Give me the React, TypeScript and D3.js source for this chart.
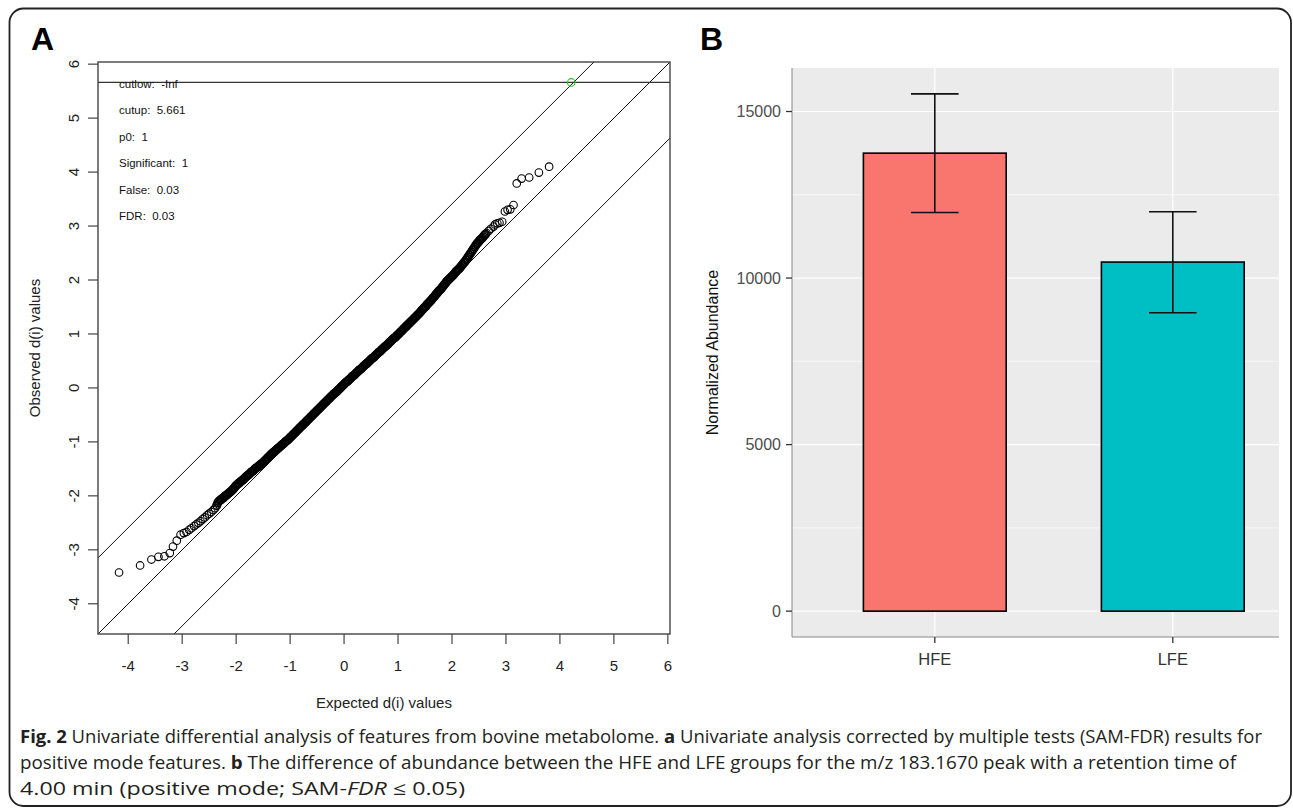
import React from 'react';
import * as d3 from 'd3';

// ---------- Panel A data (SAM plot): expected vs observed d(i) ----------
const lowerTailExp = [
  -4.17, -3.78, -3.57, -3.44, -3.33, -3.23, -3.17, -3.10, -3.03, -2.97, -2.92, -2.87,
  -2.83, -2.78, -2.74, -2.70, -2.66, -2.62, -2.58, -2.54, -2.50, -2.46, -2.42, -2.39,
];
const lowerTailObs = [
  -3.42, -3.29, -3.18, -3.13, -3.12, -3.06, -2.94, -2.83, -2.72, -2.69, -2.67, -2.63,
  -2.60, -2.56, -2.53, -2.50, -2.47, -2.43, -2.40, -2.36, -2.33, -2.30, -2.26, -2.23,
];
const denseExp = [
  -2.36, -2.34, -2.32, -2.30, -2.28, -2.26, -2.24, -2.22, -2.20, -2.18,
  -2.16, -2.14, -2.12, -2.10, -2.08, -2.06, -2.04, -2.02, -2.00, -1.98,
  -1.96, -1.94, -1.92, -1.90, -1.88, -1.86, -1.84, -1.82, -1.80, -1.78,
  -1.76, -1.74, -1.72, -1.70, -1.68, -1.66, -1.64, -1.62, -1.60, -1.58,
  -1.56, -1.54, -1.52, -1.50, -1.48, -1.46, -1.44, -1.42, -1.40, -1.38,
  -1.36, -1.34, -1.32, -1.30, -1.28, -1.26, -1.24, -1.22, -1.20, -1.18,
  -1.16, -1.14, -1.12, -1.10, -1.08, -1.06, -1.04, -1.02, -1.00, -0.98,
  -0.96, -0.94, -0.92, -0.90, -0.88, -0.86, -0.84, -0.82, -0.80, -0.78,
  -0.76, -0.74, -0.72, -0.70, -0.68, -0.66, -0.64, -0.62, -0.60, -0.58,
  -0.56, -0.54, -0.52, -0.50, -0.48, -0.46, -0.44, -0.42, -0.40, -0.38,
  -0.36, -0.34, -0.32, -0.30, -0.28, -0.26, -0.24, -0.22, -0.20, -0.18,
  -0.16, -0.14, -0.12, -0.10, -0.08, -0.06, -0.04, -0.02, 0.00, 0.02,
  0.04, 0.06, 0.08, 0.10, 0.12, 0.14, 0.16, 0.18, 0.20, 0.22,
  0.24, 0.26, 0.28, 0.30, 0.32, 0.34, 0.36, 0.38, 0.40, 0.42,
  0.44, 0.46, 0.48, 0.50, 0.52, 0.54, 0.56, 0.58, 0.60, 0.62,
  0.64, 0.66, 0.68, 0.70, 0.72, 0.74, 0.76, 0.78, 0.80, 0.82,
  0.84, 0.86, 0.88, 0.90, 0.92, 0.94, 0.96, 0.98, 1.00, 1.02,
  1.04, 1.06, 1.08, 1.10, 1.12, 1.14, 1.16, 1.18, 1.20, 1.22,
  1.24, 1.26, 1.28, 1.30, 1.32, 1.34, 1.36, 1.38, 1.40, 1.42,
  1.44, 1.46, 1.48, 1.50, 1.52, 1.54, 1.56, 1.58, 1.60, 1.62,
  1.64, 1.66, 1.68, 1.70, 1.72, 1.74, 1.76, 1.78, 1.80, 1.82,
  1.84, 1.86, 1.88, 1.90, 1.92, 1.94, 1.96, 1.98, 2.00, 2.02,
  2.04, 2.06, 2.08, 2.10, 2.12, 2.14, 2.16, 2.18, 2.20, 2.22,
  2.24, 2.26, 2.28, 2.30, 2.32, 2.34, 2.36, 2.38, 2.40, 2.42,
  2.44, 2.46, 2.48, 2.50, 2.52, 2.54, 2.56, 2.58, 2.60, 2.62,
];
const denseObs = [
  -2.18, -2.13, -2.10, -2.08, -2.07, -2.05, -2.04, -2.02, -2.00, -1.99,
  -1.97, -1.95, -1.94, -1.92, -1.90, -1.88, -1.86, -1.83, -1.81, -1.79,
  -1.77, -1.76, -1.74, -1.72, -1.71, -1.69, -1.67, -1.65, -1.63, -1.62,
  -1.60, -1.58, -1.56, -1.55, -1.53, -1.51, -1.49, -1.48, -1.46, -1.45,
  -1.43, -1.41, -1.40, -1.38, -1.36, -1.34, -1.32, -1.30, -1.28, -1.26,
  -1.24, -1.22, -1.20, -1.19, -1.17, -1.15, -1.13, -1.12, -1.10, -1.08,
  -1.06, -1.05, -1.03, -1.01, -0.99, -0.98, -0.96, -0.94, -0.92, -0.90,
  -0.88, -0.86, -0.84, -0.82, -0.80, -0.78, -0.76, -0.74, -0.72, -0.70,
  -0.68, -0.66, -0.64, -0.62, -0.60, -0.58, -0.56, -0.54, -0.52, -0.50,
  -0.48, -0.46, -0.44, -0.42, -0.40, -0.38, -0.36, -0.34, -0.32, -0.30,
  -0.28, -0.26, -0.24, -0.22, -0.20, -0.18, -0.16, -0.14, -0.12, -0.10,
  -0.09, -0.07, -0.05, -0.03, -0.01, 0.01, 0.03, 0.05, 0.07, 0.09,
  0.11, 0.12, 0.14, 0.16, 0.18, 0.20, 0.22, 0.23, 0.25, 0.27,
  0.29, 0.31, 0.33, 0.34, 0.36, 0.38, 0.40, 0.42, 0.44, 0.45,
  0.47, 0.49, 0.51, 0.53, 0.55, 0.56, 0.58, 0.60, 0.62, 0.64,
  0.66, 0.67, 0.69, 0.71, 0.73, 0.75, 0.77, 0.78, 0.80, 0.82,
  0.84, 0.86, 0.88, 0.90, 0.92, 0.93, 0.95, 0.97, 0.99, 1.01,
  1.03, 1.05, 1.07, 1.09, 1.11, 1.13, 1.15, 1.17, 1.19, 1.21,
  1.23, 1.25, 1.27, 1.29, 1.31, 1.33, 1.35, 1.37, 1.39, 1.41,
  1.44, 1.46, 1.48, 1.50, 1.52, 1.55, 1.57, 1.59, 1.61, 1.63,
  1.66, 1.68, 1.70, 1.73, 1.75, 1.78, 1.80, 1.82, 1.84, 1.87,
  1.89, 1.92, 1.94, 1.97, 1.99, 2.01, 2.03, 2.05, 2.07, 2.09,
  2.11, 2.14, 2.16, 2.18, 2.20, 2.22, 2.24, 2.27, 2.29, 2.32,
  2.34, 2.37, 2.40, 2.43, 2.46, 2.49, 2.52, 2.55, 2.58, 2.61,
  2.64, 2.67, 2.69, 2.72, 2.74, 2.76, 2.78, 2.80, 2.83, 2.85,
];
const upperTailExp = [2.64, 2.68, 2.72, 2.77, 2.80, 2.84, 2.88, 2.93, 2.98, 3.03, 3.08, 3.14, 3.20, 3.29, 3.43, 3.61, 3.80];
const upperTailObs = [2.87, 2.91, 2.95, 2.99, 3.03, 3.05, 3.06, 3.08, 3.27, 3.30, 3.31, 3.39, 3.79, 3.88, 3.90, 3.99, 4.10];
const sigExpected = [4.21];
const sigObserved = [5.661];
const deltaOffsets = [1.41, 0, -1.41];
const cutupValue = 5.661;
const axisTicksA = [-4, -3, -2, -1, 0, 1, 2, 3, 4, 5, 6];
const samLabels = ['cutlow:  -Inf', 'cutup:  5.661', 'p0:  1', 'Significant:  1', 'False:  0.03', 'FDR:  0.03'];

// ---------- Panel B data (bar chart) ----------
const groups = ['HFE', 'LFE'];
const meanAbund = [13750, 10480];
const lowerAbund = [11970, 8960];
const upperAbund = [15530, 11990];
const barColors = ['#F8766D', '#00BFC4'];
const yTicksB = [0, 5000, 10000, 15000];
const yMinorB = [2500, 7500, 12500];

const SANS = '"Liberation Sans", Arial, Helvetica, sans-serif';
const CAP = '"Open Sans", "Noto Sans", sans-serif';

export default function App() {
  const lowerN = lowerTailExp.length;
  const denseN = denseExp.length;
  const expectedD = [...lowerTailExp, ...denseExp, ...upperTailExp];
  const observedD = [...lowerTailObs, ...denseObs, ...upperTailObs];

  // Panel A scales
  const dom: [number, number] = [-4.56, 6.04];
  const xA = d3.scaleLinear().domain(dom).range([98, 670]);
  const yA = d3.scaleLinear().domain(dom).range([634, 62]);
  const [ax0, ax1] = xA.range();
  const [ay0, ay1] = yA.range();

  // Panel B scales
  const yB = d3.scaleLinear().domain([-776, 16306]).range([637, 68]);
  const xB = d3.scalePoint<string>().domain(groups).range([792, 1315.6]).padding(0.6);
  const stepB = xB.step();
  const barW = stepB * 0.6;
  const capW = stepB * 0.1;
  const panelBLeft = 792;
  const panelBRight = 1279;

  return (
    <svg width={1293} height={810} style={{ position: 'absolute', left: 0, top: 0, background: '#fff' }}>
      <defs>
        <clipPath id="clipA">
          <rect x={ax0} y={ay1} width={ax1 - ax0} height={ay0 - ay1} />
        </clipPath>
      </defs>

      {/* outer frame */}
      <rect x={9.5} y={8.5} width={1281.5} height={797.5} rx={14} ry={14} fill="none" stroke="#222" strokeWidth={1.8} />

      {/* ---------- Panel A ---------- */}
      <text x={31} y={50} fontFamily={SANS} fontWeight="bold" fontSize={32} fill="#000">A</text>

      <g clipPath="url(#clipA)">
        {deltaOffsets.map((off, i) => (
          <line key={i} x1={xA(dom[0] - 1)} y1={yA(dom[0] - 1 + off)} x2={xA(dom[1] + 1)} y2={yA(dom[1] + 1 + off)}
            stroke="#111" strokeWidth={1} />
        ))}
        <line x1={ax0} x2={ax1} y1={yA(cutupValue)} y2={yA(cutupValue)} stroke="#333" strokeWidth={1.2} />
        {expectedD.map((e, i) => {
          const dense = i >= lowerN && i < lowerN + denseN;
          return (
            <circle key={i} cx={xA(e)} cy={yA(observedD[i])} r={3.8} fill="none" stroke="#000"
              strokeWidth={dense ? 1.6 : 1.1} />
          );
        })}
        {sigExpected.map((e, i) => (
          <circle key={'s' + i} cx={xA(e)} cy={yA(sigObserved[i])} r={3.8} fill="none" stroke="#1fcc1f" strokeWidth={1.1} />
        ))}
      </g>

      {samLabels.map((t, i) => (
        <text key={t} x={119} y={88 + i * 26.4} fontFamily={SANS} fontSize={11.5} fill="#111" style={{ whiteSpace: 'pre' }}>{t}</text>
      ))}

      {/* box */}
      <rect x={ax0} y={ay1} width={ax1 - ax0} height={ay0 - ay1} fill="none" stroke="#444" strokeWidth={1.4} />

      {/* x axis */}
      {axisTicksA.map((t) => (
        <g key={'xt' + t}>
          <line x1={xA(t)} x2={xA(t)} y1={ay0} y2={ay0 + 10} stroke="#444" strokeWidth={1.2} />
          <text x={xA(t)} y={671} textAnchor="middle" fontFamily={SANS} fontSize={15} fill="#222">{t}</text>
        </g>
      ))}
      <text x={(ax0 + ax1) / 2} y={708} textAnchor="middle" fontFamily={SANS} fontSize={15} fill="#222">Expected d(i) values</text>

      {/* y axis */}
      {axisTicksA.map((t) => (
        <g key={'yt' + t}>
          <line x1={ax0 - 10} x2={ax0} y1={yA(t)} y2={yA(t)} stroke="#444" strokeWidth={1.2} />
          <text transform={`translate(78.5,${yA(t)}) rotate(-90)`} textAnchor="middle" fontFamily={SANS} fontSize={15} fill="#222">{t}</text>
        </g>
      ))}
      <text transform={`translate(39.5,${(ay0 + ay1) / 2}) rotate(-90)`} textAnchor="middle" fontFamily={SANS} fontSize={15} fill="#222">Observed d(i) values</text>

      {/* ---------- Panel B ---------- */}
      <text x={700} y={50} fontFamily={SANS} fontWeight="bold" fontSize={32} fill="#000">B</text>

      <rect x={panelBLeft} y={yB.range()[1]} width={panelBRight - panelBLeft} height={yB.range()[0] - yB.range()[1]} fill="#EBEBEB" />
      {yMinorB.map((t) => (
        <line key={'mn' + t} x1={panelBLeft} x2={panelBRight} y1={yB(t)} y2={yB(t)} stroke="#fff" strokeWidth={0.6} />
      ))}
      {yTicksB.map((t) => (
        <line key={'mj' + t} x1={panelBLeft} x2={panelBRight} y1={yB(t)} y2={yB(t)} stroke="#fff" strokeWidth={1.2} />
      ))}
      {groups.map((g) => (
        <line key={'vg' + g} x1={xB(g)} x2={xB(g)} y1={yB.range()[1]} y2={yB.range()[0]} stroke="#fff" strokeWidth={1.2} />
      ))}

      {groups.map((g, i) => (
        <rect key={'bar' + g} x={(xB(g) as number) - barW / 2} y={yB(meanAbund[i])} width={barW}
          height={yB(0) - yB(meanAbund[i])} fill={barColors[i]} stroke="#000" strokeWidth={1.6} />
      ))}
      {groups.map((g, i) => {
        const cx = xB(g) as number;
        return (
          <g key={'err' + g} stroke="#111" strokeWidth={1.6}>
            <line x1={cx} x2={cx} y1={yB(lowerAbund[i])} y2={yB(upperAbund[i])} />
            <line x1={cx - capW} x2={cx + capW} y1={yB(lowerAbund[i])} y2={yB(lowerAbund[i])} />
            <line x1={cx - capW} x2={cx + capW} y1={yB(upperAbund[i])} y2={yB(upperAbund[i])} />
          </g>
        );
      })}

      {/* axes B */}
      <line x1={panelBLeft} x2={panelBLeft} y1={yB.range()[1]} y2={yB.range()[0]} stroke="#888" strokeWidth={1} />
      <line x1={panelBLeft} x2={panelBRight} y1={yB.range()[0]} y2={yB.range()[0]} stroke="#888" strokeWidth={1} />
      {yTicksB.map((t) => (
        <g key={'bt' + t}>
          <line x1={panelBLeft - 6} x2={panelBLeft} y1={yB(t)} y2={yB(t)} stroke="#333" strokeWidth={1.3} />
          <text x={781} y={yB(t) + 5.5} textAnchor="end" fontFamily={SANS} fontSize={16} fill="#4D4D4D">{t}</text>
        </g>
      ))}
      {groups.map((g) => (
        <g key={'bx' + g}>
          <line x1={xB(g)} x2={xB(g)} y1={yB.range()[0]} y2={yB.range()[0] + 6} stroke="#333" strokeWidth={1.3} />
          <text x={xB(g)} y={665} textAnchor="middle" fontFamily={SANS} fontSize={16.5} fill="#333">{g}</text>
        </g>
      ))}
      <text transform={`translate(718,${(yB.range()[0] + yB.range()[1]) / 2}) rotate(-90)`} textAnchor="middle"
        fontFamily={SANS} fontSize={16} fill="#111">Normalized Abundance</text>

      {/* ---------- Caption ---------- */}
      <g fontFamily={CAP} fontSize={18} fill="#231F20">
        <text x={20} y={743} textLength={1242} lengthAdjust="spacingAndGlyphs">
          <tspan fontWeight="bold">Fig. 2</tspan> Univariate differential analysis of features from bovine metabolome. <tspan fontWeight="bold">a</tspan> Univariate analysis corrected by multiple tests (SAM-FDR) results for
        </text>
        <text x={20} y={769} textLength={1216} lengthAdjust="spacingAndGlyphs">
          positive mode features. <tspan fontWeight="bold">b</tspan> The difference of abundance between the HFE and LFE groups for the m/z 183.1670 peak with a retention time of
        </text>
        <text x={20} y={795} textLength={445} lengthAdjust="spacingAndGlyphs">
          4.00 min (positive mode; SAM-<tspan fontStyle="italic">FDR</tspan> ≤ 0.05)
        </text>
      </g>
    </svg>
  );
}
